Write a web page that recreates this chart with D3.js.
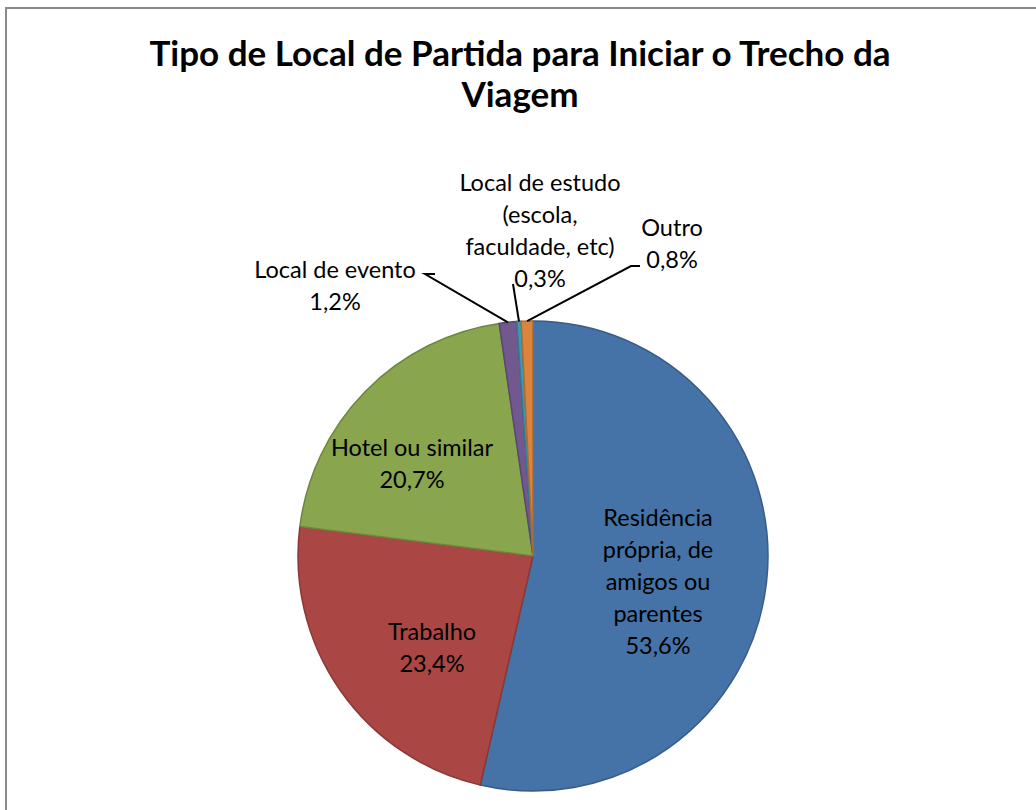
<!DOCTYPE html>
<html>
<head>
<meta charset="utf-8">
<script src="https://cdn.jsdelivr.net/npm/d3@7"></script>
<style>
  body { margin: 0; background: #fff; }
  svg { display: block; font-family: Lato, "Noto Sans", sans-serif; }
</style>
</head>
<body>
<svg id="chart" width="1036" height="810"></svg>
<script>
const categories = [
  "Residência própria, de amigos ou parentes",
  "Trabalho",
  "Hotel ou similar",
  "Local de evento",
  "Local de estudo (escola, faculdade, etc)",
  "Outro"
];
const values = [53.6, 23.4, 20.7, 1.2, 0.3, 0.8];
const colors = ["#4572A7", "#AA4643", "#89A54E", "#71588F", "#4198AF", "#DB843D"];
// how each label is broken into lines (the percentage is added as the last line)
const labelLines = [
  ["Residência", "própria, de", "amigos ou", "parentes"],
  ["Trabalho"],
  ["Hotel ou similar"],
  ["Local de evento"],
  ["Local de estudo", "(escola,", "faculdade, etc)"],
  ["Outro"]
];

const width = 1036, height = 810;
const cx = 533, cy = 556, radius = 235;
const lineH = 32;

// label placement relative to the pie centre (baseline of first line);
// small slices get a leader line through the elbow points
const labelPos = [
  { x: 125, y: -30 },
  { x: -101, y: 84 },
  { x: -121, y: -100 },
  { x: -198, y: -278, out: true, elbow: [[-108, -282], [-98, -282]] },
  { x: 7, y: -365, out: true, elbow: [[-20, -272]] },
  { x: 139, y: -320, out: true, elbow: [[98, -290], [107, -290]] }
];

const svg = d3.select("#chart");

// outer frame
svg.append("rect")
  .attr("x", 6).attr("y", 8)
  .attr("width", width + 10).attr("height", height + 10)
  .attr("fill", "none")
  .attr("stroke", "#8a8a8a")
  .attr("stroke-width", 2);

// title
const title = svg.append("text")
  .attr("text-anchor", "middle")
  .style("font-size", "35px").style("font-weight", "bold");
title.append("tspan").attr("x", 520).attr("y", 66)
  .text("Tipo de Local de Partida para Iniciar o Trecho da");
title.append("tspan").attr("x", 520).attr("y", 107)
  .text("Viagem");

const g = svg.append("g")
  .attr("transform", "translate(" + cx + "," + cy + ")");

const pie = d3.pie().sort(null).value(d => d);
const arcs = pie(values);
const arc = d3.arc().innerRadius(0).outerRadius(radius);

g.selectAll("path.slice")
  .data(arcs)
  .enter()
  .append("path")
  .attr("class", "slice")
  .attr("d", arc)
  .attr("fill", (d, i) => colors[i])
  .attr("stroke", (d, i) => d3.color(colors[i]).darker(0.6))
  .attr("stroke-width", 1.5);

// leader lines for the small slices: slice edge -> elbow(s)
const edge = d3.arc().innerRadius(radius).outerRadius(radius);
arcs.forEach((d, i) => {
  const p = labelPos[i];
  if (!p.out) return;
  const path = [edge.centroid(d)].concat(p.elbow);
  g.append("path")
    .attr("d", d3.line()(path))
    .attr("fill", "none")
    .attr("stroke", "#000")
    .attr("stroke-width", 2);
});

// labels
arcs.forEach((d, i) => {
  const p = labelPos[i];
  const lines = labelLines[i].concat([d3.format(".1f")(values[i]).replace(".", ",") + "%"]);
  const t = g.append("text")
    .attr("text-anchor", "middle")
    .style("font-size", "23.5px")
    .attr("fill", "#000");
  lines.forEach((l, k) => {
    t.append("tspan")
      .attr("x", p.x)
      .attr("y", p.y + k * lineH)
      .text(l);
  });
});
</script>
</body>
</html>
